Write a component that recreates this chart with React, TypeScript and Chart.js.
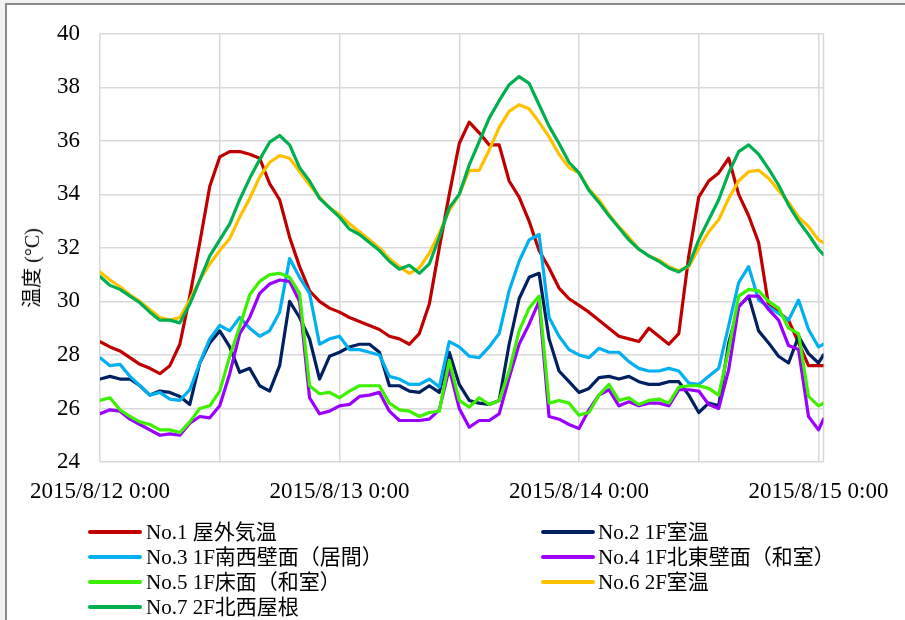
import React, { useEffect, useRef } from 'react';
import { Chart, registerables } from 'chart.js';

Chart.register(...registerables);

// Time axis: hours since 2015/8/12 0:00 (hourly readings, last at 0:30 on 8/15)
const HOURS: number[] = [...Array.from({ length: 73 }, (_, i) => i), 72.5];

const X_TICK_LABELS = ['2015/8/12 0:00', '', '2015/8/13 0:00', '', '2015/8/14 0:00', '', '2015/8/15 0:00'];
const Y_TITLE = '温度 (°C)';

const NAMES = [
  'No.1 屋外気温',
  'No.2 1F室温',
  'No.3 1F南西壁面（居間）',
  'No.4 1F北東壁面（和室）',
  'No.5 1F床面（和室）',
  'No.6 2F室温',
  'No.7 2F北西屋根',
];

const COLORS = ['#C00000', '#002060', '#00B0F0', '#9B00FF', '#3CF000', '#FFC000', '#00B050'];

const NO1 = [
  28.5, 28.3, 28.15, 27.9, 27.65, 27.5, 27.3, 27.6, 28.4, 30.2,
  32.2, 34.3, 35.4, 35.6, 35.6, 35.5, 35.35, 34.4, 33.8, 32.4,
  31.3, 30.4, 30.0, 29.75, 29.6, 29.4, 29.25, 29.1, 28.95, 28.7,
  28.6, 28.4, 28.8, 29.9, 32.0, 34.0, 35.9, 36.7, 36.3, 35.85,
  35.85, 34.5, 33.9, 33.0, 31.9, 31.25, 30.5, 30.1, 29.85, 29.6,
  29.3, 29.0, 28.7, 28.6, 28.5, 29.0, 28.7, 28.4, 28.8, 31.7,
  33.9, 34.5, 34.8, 35.35, 34.0, 33.2, 32.2, 29.85, 29.6, 29.3,
  28.45, 27.6, 27.6, 27.6,
];

const NO2 = [
  27.1, 27.2, 27.1, 27.1, 26.85, 26.5, 26.65, 26.6, 26.45, 26.15,
  27.7, 28.45, 28.9, 28.3, 27.35, 27.5, 26.85, 26.65, 27.6, 30.0,
  29.4, 28.6, 27.1, 27.95, 28.1, 28.3, 28.4, 28.4, 28.1, 26.85,
  26.85, 26.65, 26.6, 26.85, 26.6, 28.1, 26.9, 26.3, 26.2, 26.15,
  26.3, 28.4, 30.1, 30.9, 31.05, 28.6, 27.4, 27.0, 26.6, 26.75,
  27.15, 27.2, 27.1, 27.2, 27.0, 26.9, 26.9, 27.0, 27.0, 26.5,
  25.85, 26.2, 26.1, 28.45, 29.8, 30.2, 28.9, 28.45, 27.95, 27.7,
  28.7, 28.05, 27.7, 28.0,
];

const NO3 = [
  27.9, 27.6, 27.65, 27.2, 26.85, 26.5, 26.6, 26.35, 26.3, 26.7,
  27.7, 28.6, 29.1, 28.9, 29.4, 29.0, 28.7, 28.9, 29.6, 31.6,
  30.9, 30.3, 28.4, 28.6, 28.7, 28.2, 28.2, 28.1, 28.0, 27.2,
  27.1, 26.9, 26.9, 27.1, 26.8, 28.5, 28.3, 27.95, 27.9, 28.3,
  28.8, 30.4, 31.5, 32.3, 32.5, 29.4, 28.7, 28.2, 28.0, 27.9,
  28.25, 28.1, 28.1, 27.75, 27.5, 27.4, 27.4, 27.5, 27.4, 26.95,
  26.9, 27.2, 27.5, 29.1, 30.7, 31.3, 30.05, 29.8, 29.55, 29.3,
  30.05, 28.95, 28.3, 28.4,
];

const NO4 = [
  25.8, 25.95, 25.9, 25.6, 25.4, 25.2, 25.0, 25.05, 25.0, 25.45,
  25.7, 25.65, 26.1, 27.3, 28.8, 29.4, 30.3, 30.65, 30.8, 30.75,
  30.0, 26.4, 25.8, 25.9, 26.1, 26.15, 26.45, 26.5, 26.6, 25.9,
  25.55, 25.55, 25.55, 25.6, 25.95, 27.5, 26.0, 25.3, 25.55, 25.55,
  25.8, 27.15, 28.4, 29.15, 30.0, 25.7, 25.6, 25.4, 25.25, 25.95,
  26.5, 26.7, 26.1, 26.25, 26.1, 26.2, 26.2, 26.1, 26.7, 26.7,
  26.65, 26.15, 26.0, 27.45, 29.8, 30.2, 30.2, 29.7, 29.3, 28.35,
  28.2, 25.7, 25.2, 25.6,
];

const NO5 = [
  26.3, 26.4, 25.95, 25.7, 25.5, 25.4, 25.2, 25.2, 25.1, 25.5,
  26.0, 26.1, 26.65, 27.95, 29.05, 30.25, 30.75, 31.0, 31.05, 30.9,
  30.3, 26.85, 26.55, 26.6, 26.4, 26.65, 26.85, 26.85, 26.85, 26.2,
  25.95, 25.9, 25.7, 25.85, 25.9, 27.8, 26.3, 26.05, 26.4, 26.15,
  26.3, 27.4, 28.9, 29.75, 30.2, 26.2, 26.3, 26.2, 25.75, 25.85,
  26.5, 26.9, 26.3, 26.4, 26.15, 26.3, 26.35, 26.2, 26.8, 26.85,
  26.85, 26.75, 26.5, 28.2, 30.2, 30.45, 30.4, 30.0, 29.75, 29.0,
  28.8, 26.45, 26.1, 26.2,
];

const NO6 = [
  31.1, 30.8, 30.55, 30.25, 30.0, 29.7, 29.4, 29.3, 29.4, 30.05,
  30.8, 31.4, 31.9, 32.35, 33.15, 33.85, 34.65, 35.2, 35.45, 35.35,
  34.85, 34.35, 33.9, 33.5, 33.25, 32.9, 32.6, 32.3, 32.0, 31.6,
  31.3, 31.05, 31.25, 31.8, 32.55, 33.4, 34.0, 34.9, 34.9, 35.65,
  36.5, 37.1, 37.35, 37.2, 36.7, 36.15, 35.5, 35.0, 34.8, 34.2,
  33.8, 33.25, 32.8, 32.4, 31.95, 31.7, 31.55, 31.3, 31.15, 31.3,
  32.0, 32.6, 33.05, 33.85, 34.5, 34.85, 34.9, 34.6, 34.15, 33.7,
  33.15, 32.8, 32.3, 32.2,
];

const NO7 = [
  30.93, 30.6, 30.45, 30.2, 29.95, 29.6, 29.3, 29.3, 29.2, 29.9,
  30.8, 31.7, 32.3, 32.9, 33.8, 34.6, 35.3, 35.95, 36.2, 35.85,
  35.0, 34.5, 33.85, 33.5, 33.15, 32.7, 32.5, 32.2, 31.9, 31.5,
  31.2, 31.35, 31.05, 31.4, 32.4, 33.5, 34.0, 35.1, 35.97, 36.85,
  37.5, 38.1, 38.4, 38.15, 37.35, 36.55, 35.9, 35.2, 34.8, 34.15,
  33.7, 33.2, 32.75, 32.3, 31.95, 31.7, 31.5, 31.25, 31.1, 31.35,
  32.3, 33.05, 33.8, 34.8, 35.6, 35.85, 35.5, 34.95, 34.35, 33.6,
  33.0, 32.5, 31.95, 31.75,
];

const SERIES = [NO1, NO2, NO3, NO4, NO5, NO6, NO7];

const Y_MIN = 24;
const Y_MAX = 40;
const Y_STEP = 2;
const X_MIN = 0;
const X_MAX = 72.5;
const X_STEP = 12;

const SERIF = "'Liberation Serif', 'Times New Roman', 'Noto Sans CJK JP', serif";
const GRID = '#D9D9D9';

const plotBorder = {
  id: 'plotBorder',
  beforeDatasetsDraw(chart: any) {
    const { ctx, chartArea } = chart;
    ctx.save();
    ctx.strokeStyle = GRID;
    ctx.lineWidth = 1.5;
    ctx.beginPath();
    ctx.moveTo(chartArea.right, chartArea.top);
    ctx.lineTo(chartArea.right, chartArea.bottom);
    ctx.stroke();
    ctx.restore();
  },
};

export default function App() {
  const ref = useRef<HTMLCanvasElement>(null);

  useEffect(() => {
    if (!ref.current) return;
    const chart = new Chart(ref.current, {
      type: 'line',
      data: {
        datasets: SERIES.map((vals, i) => ({
          label: NAMES[i],
          data: vals.map((v, j) => ({ x: HOURS[j], y: v })),
          borderColor: COLORS[i],
          backgroundColor: COLORS[i],
          borderWidth: 3.2,
          pointRadius: 0,
          tension: 0,
          fill: false,
          borderJoinStyle: 'round',
          borderCapStyle: 'round',
          order: SERIES.length - i,
        })),
      },
      options: {
        responsive: false,
        devicePixelRatio: 1,
        animation: false,
        layout: { padding: { left: 0, right: 78, top: 33, bottom: 0 } },
        plugins: {
          legend: { display: false },
          tooltip: { enabled: false },
        },
        scales: {
          x: {
            type: 'linear',
            min: X_MIN,
            max: X_MAX,
            afterBuildTicks: (scale: any) => {
              scale.ticks = X_TICK_LABELS.map((_, k) => ({ value: X_MIN + k * X_STEP }));
            },
            afterFit: (scale: any) => {
              scale.height = 158;
            },
            grid: { color: GRID, lineWidth: 1.5, drawTicks: false },
            border: { display: false },
            ticks: {
              autoSkip: false,
              maxRotation: 0,
              minRotation: 0,
              padding: 16,
              color: '#000',
              font: { family: SERIF, size: 23 },
              callback: (v: any) => X_TICK_LABELS[Math.round((Number(v) - X_MIN) / X_STEP)] ?? '',
            },
          },
          y: {
            min: Y_MIN,
            max: Y_MAX,
            afterFit: (scale: any) => {
              scale.width = 100;
            },
            grid: { color: GRID, lineWidth: 1.5, drawTicks: false },
            border: { display: false },
            ticks: {
              stepSize: Y_STEP,
              padding: 20,
              color: '#000',
              font: { family: SERIF, size: 23 },
            },
          },
        },
      },
      plugins: [plotBorder],
    });
    return () => chart.destroy();
  }, []);

  const rowY = [532, 557, 582, 607];
  const colLine = [88, 541];
  const colText = [146, 598];

  return (
    <div
      style={{
        position: 'fixed',
        left: 0,
        top: 0,
        width: 905,
        height: 620,
        background: '#F2F2F2',
        overflow: 'hidden',
        fontFamily: SERIF,
      }}
    >
      <div
        style={{
          position: 'absolute',
          left: 5,
          top: 3,
          width: 1000,
          height: 1000,
          background: '#FFFFFF',
          borderLeft: '2px solid #8A8A8A',
          borderTop: '2px solid #8A8A8A',
        }}
      />
      <canvas
        ref={ref}
        width={905}
        height={620}
        style={{ position: 'absolute', left: 0, top: 0, width: 905, height: 620 }}
      />
      <div
        style={{
          position: 'absolute',
          left: 32,
          top: 268,
          transform: 'translate(-50%, -50%) rotate(-90deg)',
          whiteSpace: 'nowrap',
          fontSize: 20,
          lineHeight: '24px',
          color: '#000',
        }}
      >
        {Y_TITLE}
      </div>
      {NAMES.map((name, i) => {
        const r = Math.floor(i / 2);
        const c = i % 2;
        return (
          <React.Fragment key={name}>
            <div
              style={{
                position: 'absolute',
                left: colLine[c],
                top: rowY[r] - 2,
                width: 54,
                height: 4,
                background: COLORS[i],
                borderRadius: 2,
              }}
            />
            <div
              style={{
                position: 'absolute',
                left: colText[c],
                top: rowY[r] - 12,
                height: 24,
                lineHeight: '24px',
                fontSize: 21,
                whiteSpace: 'nowrap',
                color: '#000',
              }}
            >
              {name}
            </div>
          </React.Fragment>
        );
      })}
    </div>
  );
}
